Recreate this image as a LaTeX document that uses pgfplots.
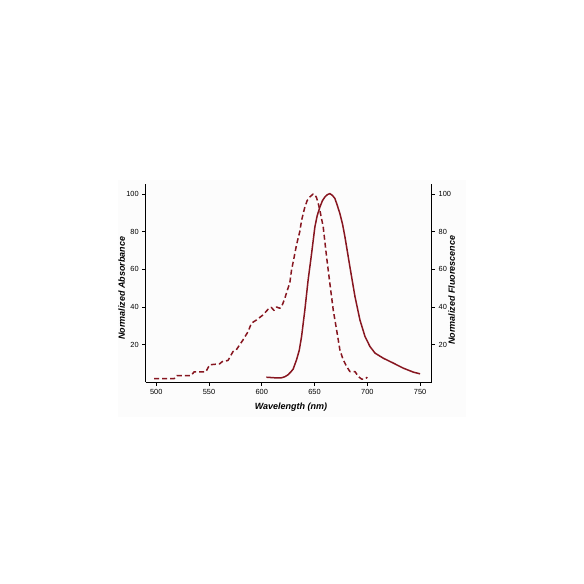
\documentclass[border=0pt]{standalone}
\usepackage{fontspec}
\setmainfont{Liberation Sans}
\usepackage{pgfplots}
\pgfplotsset{compat=1.18}
\definecolor{curve}{RGB}{135,22,32}
\definecolor{bgc}{RGB}{252,252,252}
\pgfplotsset{myax/.style={
  scale only axis, width=286pt, height=198.3pt,
  at={(145.7pt,201.7pt)}, anchor=south west,
  xmin=490, xmax=761, ymin=0, ymax=105.3,
  xtick={500,550,...,750}, ytick={20,40,60,80,100},
  tick align=outside, major tick length=3.5pt,
  axis line style={-, line width=1.4pt, black},
  every tick/.style={black, line width=0.9pt},
  tick label style={font=\fontsize{7.4}{8}\selectfont, black},
  /pgf/number format/assume math mode=true,
  label style={font=\fontsize{9}{10}\selectfont\bfseries\itshape},
}}
\begin{document}
\begin{tikzpicture}[x=1pt,y=1pt]
\useasboundingbox (0,0) rectangle (584,584);
\fill[bgc] (118,167) rectangle (466,404);
\begin{axis}[myax,
  axis x line*=bottom, axis y line*=left,
  xlabel={Wavelength (nm)}, ylabel={Normalized Absorbance},
  xlabel style={at={(axis description cs:0.508,-0.126)}, anchor=center},
  ylabel style={at={(axis description cs:-0.084,0.474)}, anchor=center},
]
\addplot[curve, line width=1.5pt, dash pattern=on 5pt off 3pt, line join=round] coordinates {
(498,2) (517,2) (519.6,3.6) (533,3.6) (536,5.6) (547,5.6) (550.6,9.3) (560,9.8) (562.6,11) (568,11.6) (572.7,16.3) (575.8,17.2) (582.2,22.5) (587,26.9) (590.2,31.4) (595,33.1) (601.2,35.8) (606,38.8) (609,39.8) (611.5,38.2) (614,40) (617,39.3) (619,40.5) (621.5,44) (624,48.5) (626.6,53) (628.2,59.6) (630.5,66) (632.9,73) (636,80) (637.7,86) (640.8,93) (643,96.5) (645.5,98.4) (648.7,100) (650.5,99.5) (651.9,98) (653.5,95) (655,91.4) (658.2,82.5) (661.4,66.6) (664.5,52.5) (667.7,38.4) (670.9,27.8) (674,17.2) (677.2,11.9) (680.4,8.4) (683.5,5.7) (688.3,5.7) (691.4,3.1) (694.6,1.7) (697.8,1.7) (700,2.7)
};
\end{axis}
\begin{axis}[myax,
  axis x line=none, axis y line*=right,
  ylabel={Normalized Fluorescence},
  ylabel style={at={(axis description cs:1.07,0.465)}, anchor=center},
]
\addplot[curve, line width=1.5pt, line join=round] coordinates {
(604.4,2.7) (612,2.4) (618.7,2.4) (622,3) (624.9,4) (627.5,5.5) (629.7,7) (632.9,11.9) (635.5,17) (637.7,24.3) (640.8,38.4) (643.9,54.3) (647.2,68.4) (650.3,82.5) (652.5,88.5) (655.1,93.1) (657.5,96.5) (659.8,98.4) (662,99.6) (664.5,100.2) (667,99.2) (669.3,97.6) (671.5,94) (674,89.6) (676.5,84) (678.8,77.2) (683.5,61.3) (688.3,45.5) (693,33.1) (697.8,24.3) (702.5,19) (707.3,15.5) (715.1,12.8) (724.6,10.2) (734.1,7.5) (743.6,5.4) (750,4.5)
};
\end{axis}
\end{tikzpicture}
\end{document}
